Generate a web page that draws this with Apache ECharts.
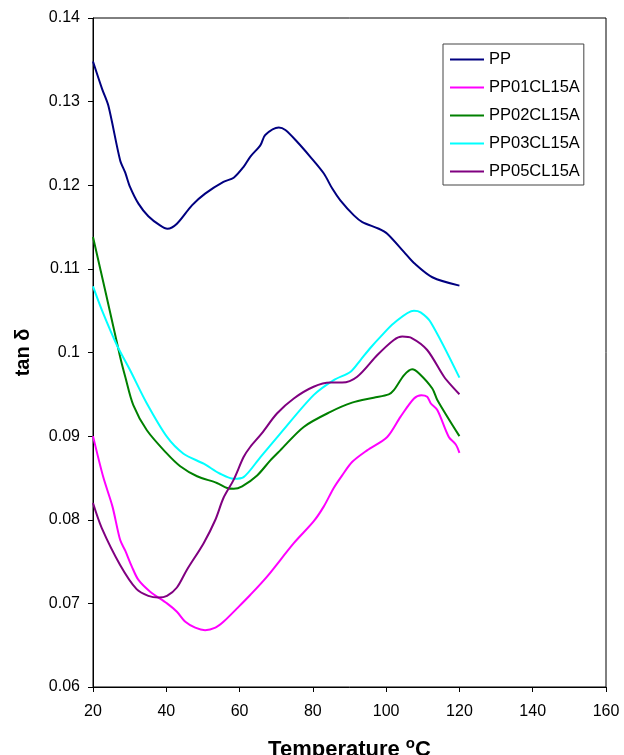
<!DOCTYPE html>
<html><head><meta charset="utf-8">
<script src="https://cdn.jsdelivr.net/npm/echarts@6/dist/echarts.min.js"></script>
<style>html,body{margin:0;padding:0;background:#fff}#c{width:624px;height:755px}</style>
</head><body><div id="c"></div>
<script>
const seriesNames = ['PP', 'PP01CL15A', 'PP02CL15A', 'PP03CL15A', 'PP05CL15A'];
const seriesColors = ['#000080', '#FF00FF', '#008000', '#00FFFF', '#800080'];
const xTicks = [20, 40, 60, 80, 100, 120, 140, 160];
const yTicks = [0.06, 0.07, 0.08, 0.09, 0.1, 0.11, 0.12, 0.13, 0.14];

const ppT   = [20, 22.5, 24.2, 27.4, 28.8, 30.1, 32.4, 35.1, 38.3, 40.3, 42.9, 47, 50.6, 55.6, 58.4, 61.1, 62.9, 65.7, 67, 70.7, 72.5, 75.7, 79.3, 83, 85.3, 87.5, 91.2, 93.5, 98, 100.3, 104.9, 107.6, 112.6, 120];
const ppTan = [0.1348, 0.1315, 0.1295, 0.123, 0.1215, 0.1198, 0.1178, 0.1163, 0.1152, 0.1148, 0.1154, 0.1176, 0.119, 0.1204, 0.1209, 0.1222, 0.1234, 0.1248, 0.126, 0.1269, 0.1266, 0.1252, 0.1234, 0.1214, 0.1196, 0.1182, 0.1164, 0.1156, 0.1148, 0.1142, 0.112, 0.1107, 0.109, 0.108];

const pp01T   = [20, 22.8, 25.3, 27.4, 28.8, 30.6, 32.4, 35.6, 40.2, 42.9, 45.2, 47.9, 50.6, 53.4, 55.6, 59.3, 62.9, 67.5, 74.8, 80.2, 83, 85.7, 88, 90.7, 94.8, 100.3, 103.9, 107.6, 109.6, 111.2, 112.2, 114, 117.1, 119, 120];
const pp01Tan = [0.09, 0.0851, 0.0816, 0.0776, 0.0763, 0.0744, 0.0728, 0.0714, 0.07, 0.069, 0.0678, 0.0671, 0.0668, 0.0671, 0.0678, 0.0694, 0.071, 0.0732, 0.0772, 0.0798, 0.0816, 0.0838, 0.0853, 0.0869, 0.0883, 0.0899, 0.0923, 0.0945, 0.0949, 0.0947, 0.0939, 0.0931, 0.0899, 0.089, 0.088];

const pp02T   = [20, 23.7, 27.4, 28.8, 31, 34.7, 40.2, 43.8, 48.4, 53.8, 56.6, 58.4, 60.7, 64.8, 68.4, 71.1, 77.5, 84.8, 90.7, 96.6, 100.7, 102.1, 104.9, 107.1, 109, 112.6, 114, 120];
const pp02Tan = [0.1138, 0.1067, 0.0995, 0.0971, 0.0937, 0.0907, 0.0879, 0.0864, 0.0852, 0.0844, 0.0838, 0.0837, 0.084, 0.0853, 0.0871, 0.0883, 0.0911, 0.0929, 0.094, 0.0946, 0.095, 0.0955, 0.0973, 0.098, 0.0975, 0.0957, 0.0943, 0.09];

const pp03T   = [20, 22.4, 26.5, 30.1, 34.7, 40.2, 44.7, 50.2, 54.7, 58.4, 61.1, 65.7, 71.1, 80.2, 85.7, 90.3, 93, 95.8, 98.5, 102.1, 107.6, 109.4, 112.2, 120];
const pp03Tan = [0.1079, 0.1051, 0.1009, 0.0979, 0.0939, 0.0899, 0.0879, 0.0867, 0.0855, 0.0849, 0.0851, 0.0875, 0.0903, 0.0949, 0.0967, 0.0977, 0.0991, 0.1006, 0.1019, 0.1035, 0.105, 0.1048, 0.1036, 0.097];

const pp05T   = [20, 22.4, 27.4, 31.9, 35.1, 37.9, 40.2, 42.9, 45.6, 50.2, 53.4, 55.6, 58.4, 61.1, 62.9, 66, 70.2, 74.8, 80.2, 84.8, 88, 92.1, 97.6, 102.1, 104.4, 107.1, 111.2, 115.8, 118.5, 120];
const pp05Tan = [0.082, 0.079, 0.0746, 0.0717, 0.0709, 0.0707, 0.0709, 0.0719, 0.074, 0.0772, 0.08, 0.0826, 0.0848, 0.0875, 0.0887, 0.0903, 0.0927, 0.0945, 0.0959, 0.0964, 0.0964, 0.0971, 0.0997, 0.1015, 0.1019, 0.1017, 0.1003, 0.0971, 0.0957, 0.095];

const temps = [ppT, pp01T, pp02T, pp03T, pp05T];
const tans = [ppTan, pp01Tan, pp02Tan, pp03Tan, pp05Tan];

const chart = echarts.init(document.getElementById('c'), null, {renderer: 'canvas'});
const font = 'Liberation Sans, Arial, sans-serif';
chart.setOption({
  animation: false,
  backgroundColor: '#fff',
  grid: {left: 93, right: 18, top: 18, bottom: 68, containLabel: false, outerBoundsMode: 'none',
    show: true, borderColor: '#000', borderWidth: 1, backgroundColor: 'transparent'},
  legend: {
    orient: 'vertical', left: 443, top: 44,
    data: seriesNames,
    itemWidth: 34, itemHeight: 2, itemGap: 11,
    icon: 'rect',
    padding: [7, 4, 5, 7],
    borderColor: '#444', borderWidth: 1,
    textStyle: {fontFamily: font, fontSize: 16.5, color: '#000', padding: [0,0,0,0]}
  },
  xAxis: {
    type: 'value', min: xTicks[0], max: xTicks[xTicks.length-1], interval: 20,
    name: 'Temperature {sup|o}C', nameLocation: 'middle', nameGap: 49,
    nameTextStyle: {fontFamily: font, fontSize: 22, fontWeight: 'bold', color: '#000',
      rich: {sup: {fontFamily: font, fontSize: 15, fontWeight: 'bold', color: '#000', verticalAlign: 'top', padding: [0,0,12,0]}}},
    axisLine: {show: true, lineStyle: {color: '#000', width: 1}},
    axisTick: {show: true, length: 5, inside: false, lineStyle: {color: '#000'}},
    axisLabel: {fontFamily: font, fontSize: 16, color: '#000', margin: 17},
    splitLine: {show: false}
  },
  yAxis: {
    type: 'value', min: yTicks[0], max: yTicks[yTicks.length-1], interval: 0.01,
    name: 'tan δ', nameLocation: 'middle', nameGap: 60, nameRotate: 90,
    nameTextStyle: {fontFamily: font, fontSize: 20, fontWeight: 'bold', color: '#000'},
    axisLine: {show: true, lineStyle: {color: '#000', width: 1}},
    axisTick: {show: true, length: 5, inside: false, lineStyle: {color: '#000'}},
    axisLabel: {fontFamily: font, fontSize: 16, color: '#000', margin: 13,
      formatter: v => String(+v.toFixed(2))},
    splitLine: {show: false}
  },
  series: seriesNames.map((n, i) => ({
    name: n, type: 'line', showSymbol: false, symbol: 'none', smooth: 0.3,
    lineStyle: {color: seriesColors[i], width: 2},
    itemStyle: {color: seriesColors[i]},
    data: temps[i].map((t, j) => [t, tans[i][j]])
  }))
});
</script></body></html>
